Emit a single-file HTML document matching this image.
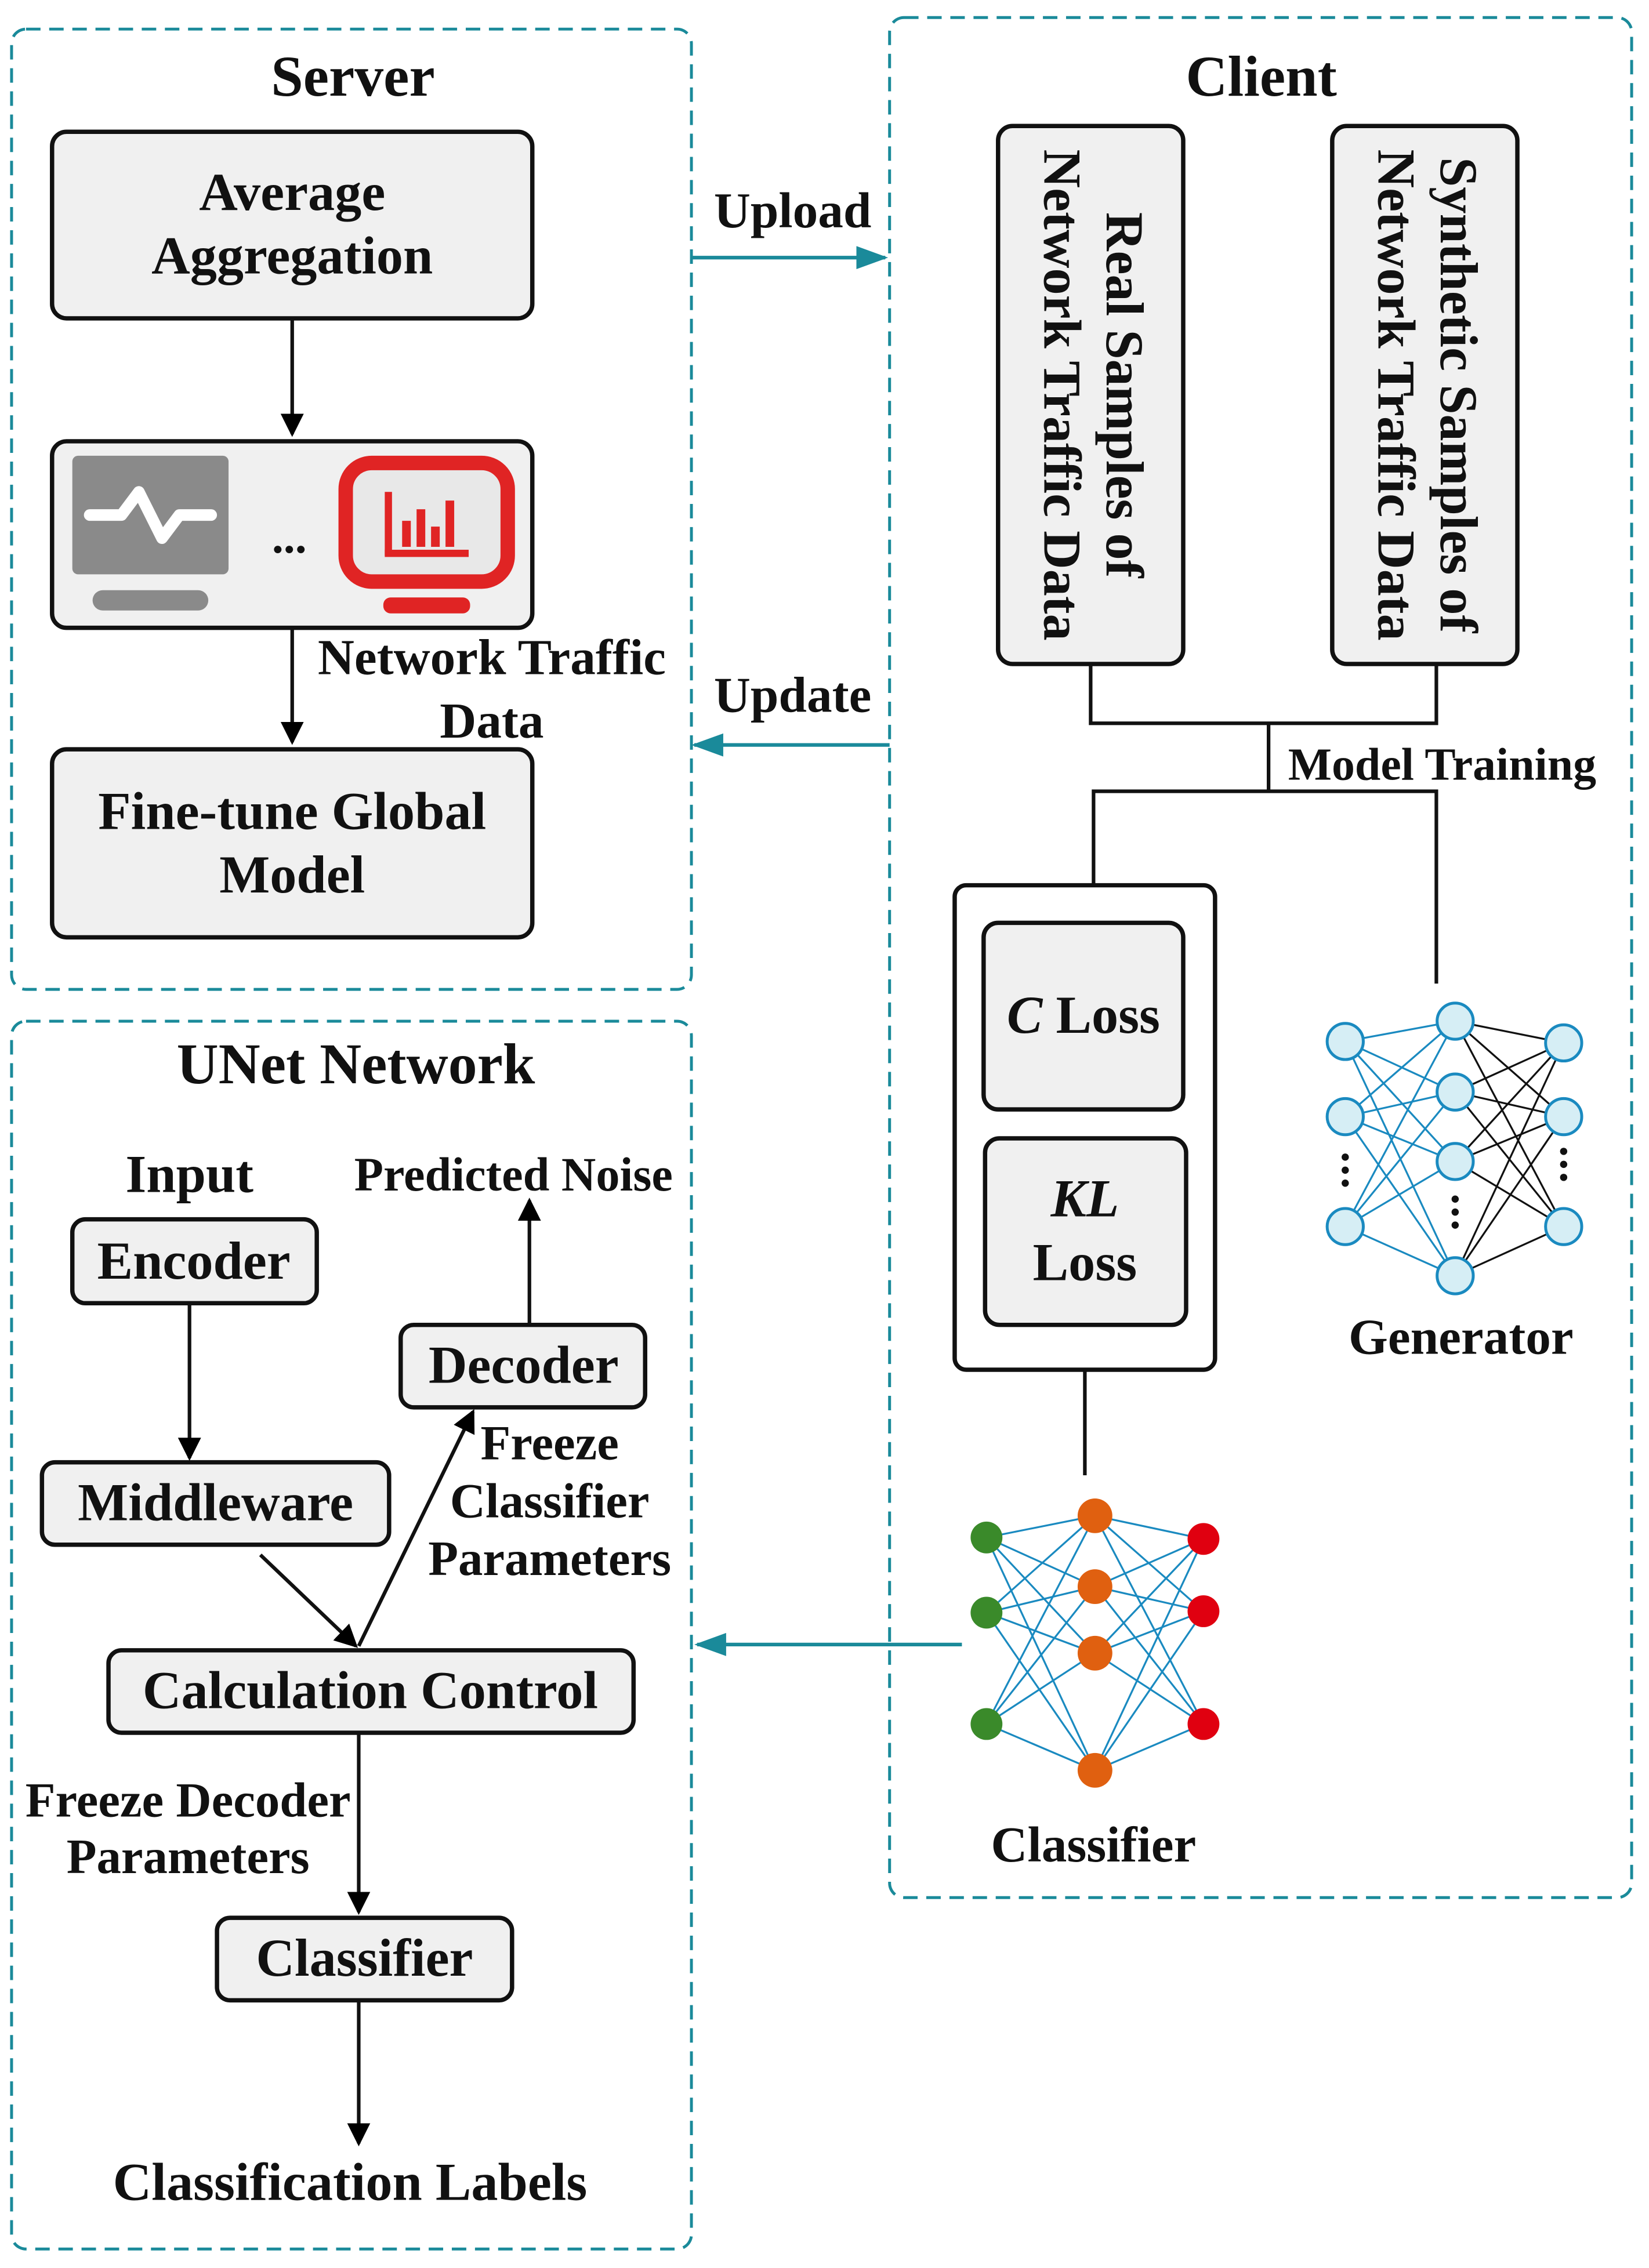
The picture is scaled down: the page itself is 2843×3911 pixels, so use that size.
<!DOCTYPE html>
<html><head><meta charset="utf-8"><style>
html,body{margin:0;padding:0;background:#fff}
svg{display:block}
text{font-family:"Liberation Serif",serif;font-weight:bold;fill:#111}
</style></head><body>
<svg width="2843" height="3911" viewBox="0 0 1140 1568" xmlns="http://www.w3.org/2000/svg">
<defs>
<marker id="at" markerWidth="22" markerHeight="16" refX="20" refY="8" orient="auto" markerUnits="userSpaceOnUse"><path d="M0,0 L22,8 L0,16 z" fill="#1a8a9a"/></marker>
<marker id="ak" markerWidth="16" markerHeight="20" refX="14" refY="10" orient="auto" markerUnits="userSpaceOnUse"><path d="M0,2 L16,10 L0,18 z" fill="#000"/></marker>
</defs>
<g fill="none" stroke="#1a8a9a" stroke-width="2" stroke-dasharray="10,6">
<rect x="8" y="20" width="470" height="664" rx="10"/>
<rect x="615" y="12" width="513" height="1300" rx="10"/>
<rect x="8" y="706" width="470" height="849" rx="10"/>
</g>
<g text-anchor="middle">
<text x="244" y="66" font-size="40">Server</text>
<text x="872" y="66" font-size="40">Client</text>
<text x="246" y="749" font-size="40">UNet Network</text>
</g>
<g fill="#f0f0f0" stroke="#111" stroke-width="3">
<rect x="36" y="91" width="332" height="129" rx="10"/>
<rect x="36" y="305" width="332" height="129" rx="10"/>
<rect x="36" y="518" width="332" height="130" rx="10"/>
<rect x="690" y="87" width="128" height="372" rx="10"/>
<rect x="921" y="87" width="128" height="372" rx="10"/>
<rect x="660" y="612" width="180" height="335" rx="8" fill="#fff"/>
<rect x="680" y="638" width="138" height="129" rx="10"/>
<rect x="681" y="787" width="139" height="129" rx="10"/>
<rect x="50" y="843" width="169" height="58" rx="9"/>
<rect x="29" y="1011" width="240" height="57" rx="9"/>
<rect x="277" y="916" width="169" height="57" rx="9"/>
<rect x="75" y="1141" width="363" height="57" rx="9"/>
<rect x="150" y="1326" width="204" height="57" rx="9"/>
</g>
<g text-anchor="middle" font-size="37">
<text x="202" y="145">Average</text><text x="202" y="189">Aggregation</text>
<text x="202" y="573">Fine-tune Global</text><text x="202" y="617">Model</text>
<text x="134" y="884">Encoder</text>
<text x="149" y="1051">Middleware</text>
<text x="362" y="956">Decoder</text>
<text x="256" y="1181">Calculation Control</text>
<text x="252" y="1366">Classifier</text>
<text x="749" y="714"><tspan font-style="italic">C</tspan> Loss</text>
<text x="750" y="841" font-style="italic">KL</text><text x="750" y="885">Loss</text>
</g>
<g font-size="37" text-anchor="middle">
<text transform="translate(765,273) rotate(90)">Real Samples of</text>
<text transform="translate(722,273) rotate(90)">Network Traffic Data</text>
<text transform="translate(996,273) rotate(90)">Synthetic Samples of</text>
<text transform="translate(953,273) rotate(90)">Network Traffic Data</text>
</g>
<g font-size="35" text-anchor="middle">
<text x="340" y="466">Network Traffic</text><text x="340" y="510">Data</text>
<text x="548" y="157">Upload</text><text x="548" y="492">Update</text>
<text x="997" y="539" font-size="32">Model Training</text>
<text x="1010" y="936">Generator</text>
<text x="756" y="1287">Classifier</text>
<text x="131" y="824" font-size="37">Input</text>
<text x="355" y="823" font-size="33">Predicted Noise</text>
<text x="380" y="1009" font-size="34">Freeze</text>
<text x="380" y="1049" font-size="34">Classifier</text>
<text x="380" y="1089" font-size="34">Parameters</text>
<text x="130" y="1256" font-size="34">Freeze Decoder</text>
<text x="130" y="1295" font-size="34">Parameters</text>
<text x="242" y="1521" font-size="37">Classification Labels</text>
</g>
<rect x="50" y="315" width="108" height="82" rx="4" fill="#8a8a8a"/>
<rect x="64" y="408" width="80" height="14" rx="7" fill="#8a8a8a"/>
<path d="M62,356 H84 L96,340 L112,372 L124,356 H146" fill="none" stroke="#fff" stroke-width="8" stroke-linejoin="round" stroke-linecap="round"/>
<text x="200" y="382" font-size="32" text-anchor="middle">...</text>
<rect x="239" y="320" width="112" height="82" rx="18" fill="#e8e8e8" stroke="#e02424" stroke-width="10"/>
<rect x="265" y="413" width="60" height="11" rx="5" fill="#e02424"/>
<g fill="#e02424"><rect x="266" y="340" width="5" height="44"/><rect x="266" y="380" width="58" height="5"/>
<rect x="278" y="360" width="6" height="18"/><rect x="288" y="352" width="6" height="26"/><rect x="298" y="364" width="6" height="14"/><rect x="308" y="346" width="6" height="32"/></g>
<g stroke="#111" stroke-width="2.5" fill="none">
<line x1="202" y1="220" x2="202" y2="300" marker-end="url(#ak)"/>
<line x1="202" y1="434" x2="202" y2="513" marker-end="url(#ak)"/>
<polyline points="754,459 754,500 993,500 993,459"/>
<line x1="877" y1="500" x2="877" y2="547"/>
<polyline points="756,612 756,547 993,547 993,680"/>
<line x1="750" y1="947" x2="750" y2="1020"/>
<line x1="131" y1="901" x2="131" y2="1008" marker-end="url(#ak)"/>
<line x1="366" y1="916" x2="366" y2="830" marker-end="url(#ak)"/>
<line x1="180" y1="1075" x2="246" y2="1138" marker-end="url(#ak)"/>
<line x1="248" y1="1138" x2="327" y2="976" marker-end="url(#ak)"/>
<line x1="248" y1="1198" x2="248" y2="1322" marker-end="url(#ak)"/>
<line x1="248" y1="1383" x2="248" y2="1482" marker-end="url(#ak)"/>
</g>
<g stroke="#1a8a9a" stroke-width="2.5" fill="none">
<line x1="478" y1="178" x2="612" y2="178" marker-end="url(#at)"/>
<line x1="615" y1="515" x2="480" y2="515" marker-end="url(#at)"/>
<line x1="665" y1="1137" x2="482" y2="1137" marker-end="url(#at)"/>
</g>
<g stroke="#1a8ac0" stroke-width="1.3">
<path d="M930,720L1006,706M930,720L1006,755M930,720L1006,803M930,720L1006,882M930,772L1006,706M930,772L1006,755M930,772L1006,803M930,772L1006,882M930,848L1006,706M930,848L1006,755M930,848L1006,803M930,848L1006,882"/>
</g>
<g stroke="#111" stroke-width="1.3">
<path d="M1006,706L1081,721M1006,706L1081,772M1006,706L1081,848M1006,755L1081,721M1006,755L1081,772M1006,755L1081,848M1006,803L1081,721M1006,803L1081,772M1006,803L1081,848M1006,882L1081,721M1006,882L1081,772M1006,882L1081,848"/>
</g>
<g fill="#d6eef5" stroke="#1a8ac0" stroke-width="2">
<circle cx="930" cy="720" r="12.5"/><circle cx="930" cy="772" r="12.5"/><circle cx="930" cy="848" r="12.5"/>
<circle cx="1006" cy="706" r="12.5"/><circle cx="1006" cy="755" r="12.5"/><circle cx="1006" cy="803" r="12.5"/><circle cx="1006" cy="882" r="12.5"/>
<circle cx="1081" cy="721" r="12.5"/><circle cx="1081" cy="772" r="12.5"/><circle cx="1081" cy="848" r="12.5"/>
</g>
<g fill="#111"><circle cx="930" cy="800" r="2.5"/><circle cx="930" cy="809" r="2.5"/><circle cx="930" cy="818" r="2.5"/>
<circle cx="1006" cy="829" r="2.5"/><circle cx="1006" cy="838" r="2.5"/><circle cx="1006" cy="847" r="2.5"/>
<circle cx="1081" cy="796" r="2.5"/><circle cx="1081" cy="805" r="2.5"/><circle cx="1081" cy="814" r="2.5"/></g>
<g stroke="#1a8ac0" stroke-width="1.3">
<path d="M682,1063L757,1048M682,1063L757,1097M682,1063L757,1143M682,1063L757,1224M682,1115L757,1048M682,1115L757,1097M682,1115L757,1143M682,1115L757,1224M682,1192L757,1048M682,1192L757,1097M682,1192L757,1143M682,1192L757,1224"/>
<path d="M757,1048L832,1064M757,1048L832,1114M757,1048L832,1192M757,1097L832,1064M757,1097L832,1114M757,1097L832,1192M757,1143L832,1064M757,1143L832,1114M757,1143L832,1192M757,1224L832,1064M757,1224L832,1114M757,1224L832,1192"/>
</g>
<g fill="#3a8a2a"><circle cx="682" cy="1063" r="11"/><circle cx="682" cy="1115" r="11"/><circle cx="682" cy="1192" r="11"/></g>
<g fill="#e06010"><circle cx="757" cy="1048" r="12"/><circle cx="757" cy="1097" r="12"/><circle cx="757" cy="1143" r="12"/><circle cx="757" cy="1224" r="12"/></g>
<g fill="#e00010"><circle cx="832" cy="1064" r="11"/><circle cx="832" cy="1114" r="11"/><circle cx="832" cy="1192" r="11"/></g>
</svg>
</body></html>
